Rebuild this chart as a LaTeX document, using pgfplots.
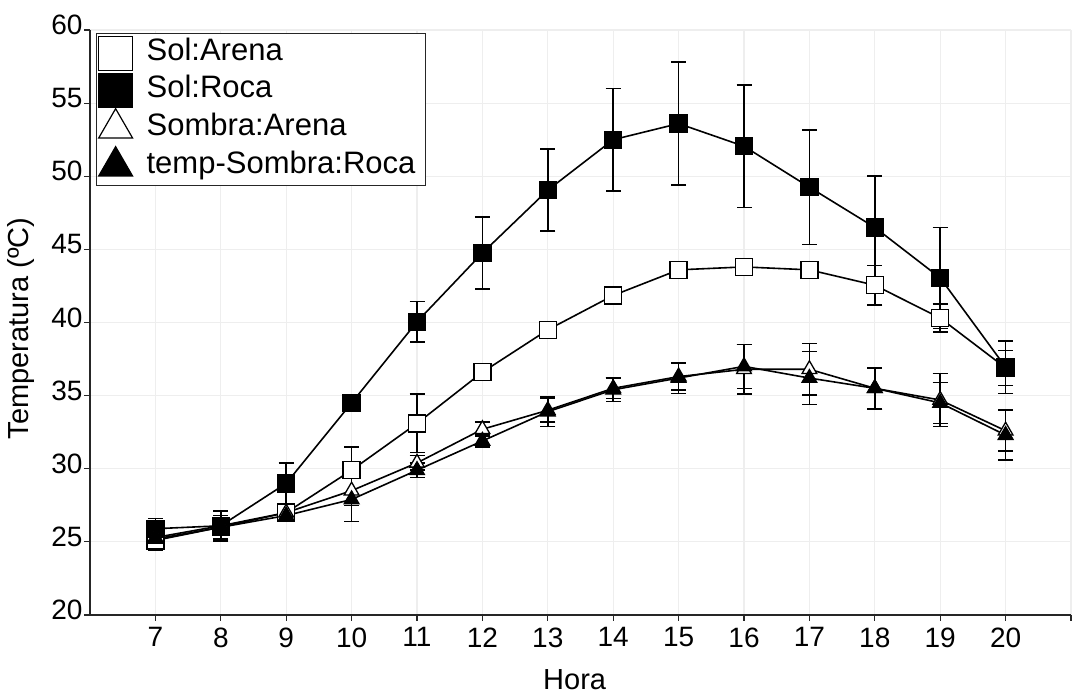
\documentclass[border=0pt]{standalone}
\usepackage{fontspec}
\setmainfont{Liberation Sans}
\usepackage{pgfplots}
\pgfplotsset{compat=1.18}
\begin{document}
\begin{tikzpicture}
\begin{axis}[
  at={(0,0)}, anchor=south west,
  scale only axis, width=981pt, height=585pt,
  xmin=6, xmax=21, ymin=20, ymax=60,
  axis lines*=left,
  axis line style={line width=1.5pt, black!85},
  tick align=outside,
  major tick length=6pt,
  tick style={line width=1.2pt, black!85},
  xtick={7,...,21},
  xticklabels={7,8,9,10,11,12,13,14,15,16,17,18,19,20,{}},
  ytick={20,25,...,60},
  grid=major,
  grid style={gray!13, line width=1.2pt},
  /pgf/number format/assume math mode=true,
  tick label style={font=\fontsize{28}{32}\selectfont},
  yticklabel style={yshift=5pt, xshift=2pt},
  xticklabel style={yshift=-3pt},
  xlabel={Hora},
  ylabel={Temperatura (ºC)},
  label style={font=\fontsize{29}{34}\selectfont},
  xlabel style={at={(axis description cs:0.494,0)}, anchor=center, yshift=-65pt},
  ylabel style={at={(axis description cs:-0.0704,0.49)}, anchor=center},
  legend style={at={(axis description cs:0.006,0.995)}, anchor=north west,
    draw=black!85, line width=1.5pt, inner xsep=2pt, inner ysep=1pt,
    font=\fontsize{31}{36}\selectfont,
    nodes={inner xsep=8pt, inner ysep=4pt, text height=22pt, text depth=7pt}},
  legend cell align=left,
  /tikz/every odd column/.append style={column sep=0pt},
  error bars/error bar style={line width=1.5pt, black},
  error bars/error mark options={rotate=90, mark size=7.5pt, line width=1.5pt, black},
]
% legend images
\addlegendimage{only marks, mark=square*, mark size=17pt, mark options={fill=white, draw=black, line width=1.2pt}}
\addlegendentry{\hspace{6pt}Sol:Arena}
\addlegendimage{only marks, mark=square*, mark size=17pt, mark options={fill=black, draw=black, line width=1.2pt}}
\addlegendentry{\hspace{6pt}Sol:Roca}
\addlegendimage{only marks, mark=triangle*, mark size=19.5pt, mark options={fill=white, draw=black, line width=1.2pt}}
\addlegendentry{\hspace{6pt}Sombra:Arena}
\addlegendimage{only marks, mark=triangle*, mark size=19.5pt, mark options={fill=black, draw=black, line width=1.2pt}}
\addlegendentry{\hspace{6pt}temp-Sombra:Roca}

% Sol:Arena
\addplot[forget plot, black, line width=1.6pt, mark=square*, mark size=8.5pt,
  mark options={fill=white, draw=black, line width=1.3pt},
  error bars/.cd, y dir=both, y explicit] coordinates {
(7,25.1) +- (0,0.5)
(8,26.0) +- (0,0.5)
(9,27.0) +- (0,0.4)
(10,29.9) +- (0,1.6)
(11,33.1) +- (0,2.0)
(12,36.6) +- (0,0.4)
(13,39.5) +- (0,0.4)
(14,41.85) +- (0,0.3)
(15,43.6) +- (0,0.5)
(16,43.8) +- (0,0.3)
(17,43.6) +- (0,0.5)
(18,42.55) +- (0,1.35)
(19,40.3) +- (0,0.95)
(20,36.9) +- (0,1.2)
};
% Sol:Roca
\addplot[forget plot, black, line width=1.6pt, mark=square*, mark size=8.5pt,
  mark options={fill=black, draw=black, line width=1.3pt},
  error bars/.cd, y dir=both, y explicit] coordinates {
(7,25.9) +- (0,0.7)
(8,26.1) +- (0,1.0)
(9,29.0) +- (0,1.4)
(10,34.5) +- (0,0.4)
(11,40.05) +- (0,1.4)
(12,44.75) +- (0,2.45)
(13,49.05) +- (0,2.8)
(14,52.5) +- (0,3.5)
(15,53.6) +- (0,4.2)
(16,52.05) +- (0,4.2)
(17,49.25) +- (0,3.9)
(18,46.5) +- (0,3.5)
(19,43.05) +- (0,3.45)
(20,36.95) +- (0,1.8)
};
% Sombra:Arena
\addplot[forget plot, black, line width=1.6pt, mark=triangle*, mark size=8.5pt,
  mark options={fill=white, draw=black, line width=1.3pt},
  error bars/.cd, y dir=both, y explicit] coordinates {
(7,25.3) +- (0,0.6)
(8,26.1) +- (0,1.05)
(9,27.0) +- (0,0.4)
(10,28.5) +- (0,1.0)
(11,30.4) +- (0,0.5)
(12,32.7) +- (0,0.5)
(13,34.0) +- (0,0.8)
(14,35.5) +- (0,0.7)
(15,36.3) +- (0,0.9)
(16,36.8) +- (0,1.7)
(17,36.8) +- (0,1.75)
(18,35.5) +- (0,1.4)
(19,34.7) +- (0,1.8)
(20,32.6) +- (0,1.4)
};
% temp-Sombra:Roca
\addplot[forget plot, black, line width=1.6pt, mark=triangle*, mark size=8.5pt,
  mark options={fill=black, draw=black, line width=1.3pt},
  error bars/.cd, y dir=both, y explicit] coordinates {
(7,25.2) +- (0,0.8)
(8,26.0) +- (0,0.8)
(9,26.8) +- (0,0.3)
(10,27.9) +- (0,1.5)
(11,29.9) +- (0,0.5)
(12,31.9) +- (0,0.4)
(13,33.9) +- (0,1.0)
(14,35.4) +- (0,0.8)
(15,36.2) +- (0,1.05)
(16,37.0) +- (0,1.5)
(17,36.2) +- (0,1.8)
(18,35.5) +- (0,1.4)
(19,34.5) +- (0,1.4)
(20,32.3) +- (0,1.7)
};
\end{axis}
\pgfresetboundingbox
\path (-90pt,-80pt) rectangle (986pt,615pt);
\end{tikzpicture}
\end{document}
